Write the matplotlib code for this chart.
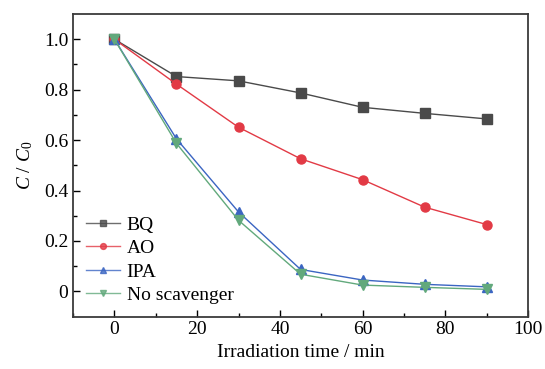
import matplotlib
matplotlib.use("Agg")
import matplotlib.pyplot as plt
from matplotlib.ticker import MultipleLocator, FixedLocator

plt.rcParams['font.family'] = ['Liberation Serif', 'DejaVu Serif']
plt.rcParams['mathtext.fontset'] = 'custom'
plt.rcParams['mathtext.it'] = 'Liberation Serif:italic'
plt.rcParams['mathtext.rm'] = 'Liberation Serif'

time = [0, 15, 30, 45, 60, 75, 90]
bq = [1.0, 0.852, 0.835, 0.787, 0.730, 0.706, 0.684]
ao = [1.0, 0.822, 0.651, 0.526, 0.443, 0.334, 0.265]
ipa = [1.0, 0.605, 0.315, 0.087, 0.045, 0.028, 0.018]
noscav = [1.0, 0.587, 0.282, 0.068, 0.025, 0.016, 0.008]

series = [
    ("BQ", bq, "#4a4a4a", "s"),
    ("AO", ao, "#e23a45", "o"),
    ("IPA", ipa, "#3b65c2", "^"),
    ("No scavenger", noscav, "#62a97c", "v"),
]

fig = plt.figure(figsize=(5.45, 3.69), dpi=100)
ax = fig.add_axes([0.134, 0.142, 0.835, 0.820])

for name, vals, col, mk in series:
    ax.plot(time, vals, color=col, marker=mk, markersize=6.5, linewidth=1.0,
            label=name)

ax.set_xlim(-10, 100)
ax.set_ylim(-0.1, 1.1)
ax.xaxis.set_major_locator(FixedLocator([0, 20, 40, 60, 80, 100]))
ax.xaxis.set_minor_locator(MultipleLocator(10))
ax.yaxis.set_major_locator(FixedLocator([0, 0.2, 0.4, 0.6, 0.8, 1.0]))
ax.yaxis.set_minor_locator(FixedLocator([0.1, 0.3, 0.5, 0.7, 0.9]))
ax.set_yticklabels(["0", "0.2", "0.4", "0.6", "0.8", "1.0"])
ax.tick_params(axis='both', which='major', direction='in', length=5, width=1,
               labelsize=14, top=False, right=False)
ax.tick_params(axis='both', which='minor', direction='in', length=3, width=1,
               top=False, right=False)
for s in ax.spines.values():
    s.set_linewidth(1.3)
    s.set_color("#3a3a3a")

ax.set_xlabel("Irradiation time / min", fontsize=14, labelpad=4)
ax.set_ylabel(r"$C$ / $C_0$", fontsize=14, labelpad=6)

leg = ax.legend(loc='lower left', bbox_to_anchor=(0.0, 0.0), frameon=False,
                fontsize=14, handlelength=1.75, handletextpad=0.35,
                labelspacing=0.3, borderaxespad=0.25, markerscale=0.65)
for ln in leg.get_lines():
    ln.set_alpha(0.8)

fig.savefig("out.png", dpi=100)
